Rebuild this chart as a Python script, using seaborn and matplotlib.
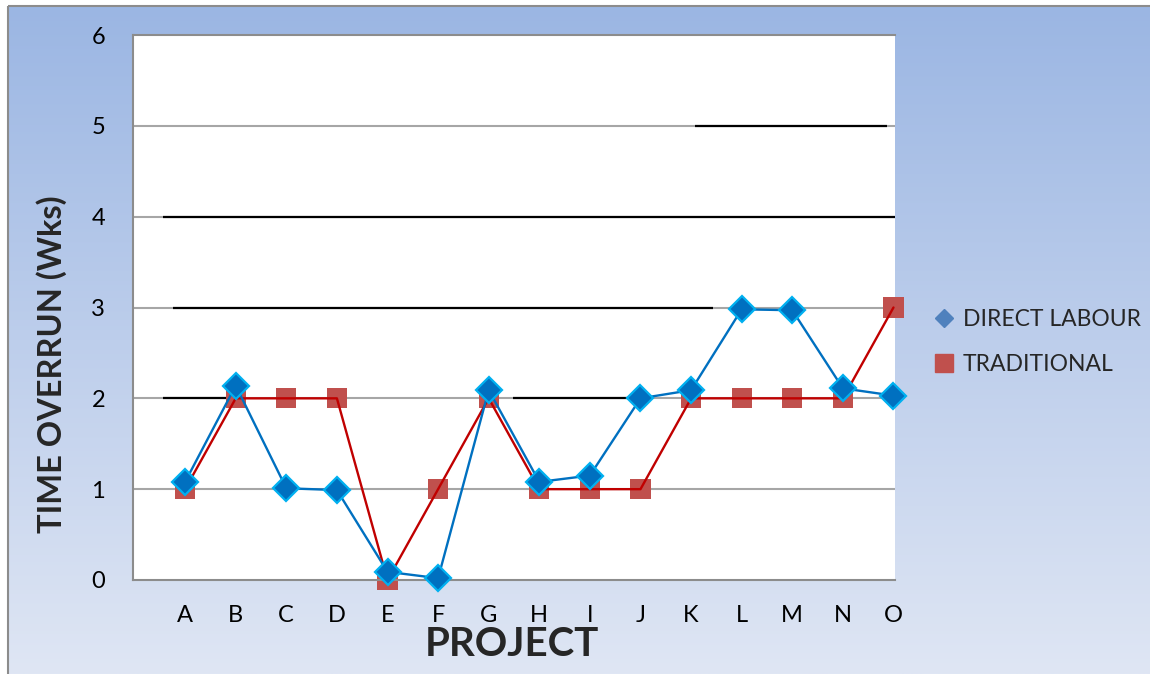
import numpy as np
import pandas as pd
import matplotlib
matplotlib.use("Agg")
import matplotlib.pyplot as plt
from matplotlib.lines import Line2D
from matplotlib.patches import Rectangle
import seaborn as sns

# Time overrun (weeks) per project
projects = list("ABCDEFGHIJKLMNO")
direct_labour = [1.08, 2.14, 1.01, 0.99, 0.09, 0.02, 2.09, 1.08, 1.15, 2.00,
                 2.09, 2.98, 2.97, 2.11, 2.03]
traditional = [1, 2, 2, 2, 0, 1, 2, 1, 1, 1, 2, 2, 2, 2, 3]
y_ticks = [0, 1, 2, 3, 4, 5, 6]
series_names = ["DIRECT LABOUR", "TRADITIONAL"]

# dark strokes lying on some gridlines: level, start and end in category units
stroke_levels = [4, 3, 5, 2, 2]
stroke_starts = [-0.43, -0.24, 10.08, -0.43, 6.48]
stroke_ends = [14.03, 10.43, 13.87, 0.85, 8.85]

df = pd.DataFrame({"project": projects,
                   "direct": direct_labour,
                   "traditional": traditional})

sns.set_style("white")
plt.rcParams["font.family"] = ["Lato", "DejaVu Sans"]

W, H = 1150, 674
fig = plt.figure(figsize=(W / 100, H / 100), dpi=100)
fig.patch.set_facecolor("white")

# chart-area background: vertical blue gradient inside a grey frame
bg = fig.add_axes([0, 0, 1, 1], zorder=0)
bg.set_xlim(0, W)
bg.set_ylim(H, 0)
bg.axis("off")
top = np.array([155, 182, 227]) / 255
bottom = np.array([223, 230, 244]) / 255
t = np.linspace(0, 1, 256)[:, None, None]
grad = top * (1 - t) + bottom * t
grad = np.repeat(grad, 2, axis=1)
bg.imshow(grad, extent=[8, W, H, 6], aspect="auto", interpolation="bilinear")
bg.add_patch(Rectangle((7.5, 5.5), W, H, fill=False, edgecolor="#8c8c8c", lw=1.5))

# plot area
ax = fig.add_axes([133 / W, 1 - 580 / H, (895 - 133) / W, (580 - 35) / H], zorder=1)
ax.set_facecolor("white")

for lvl in y_ticks[1:-1]:
    ax.axhline(lvl, color="#a6a6a6", lw=1.5, zorder=0.5)
ax.hlines(stroke_levels, stroke_starts, stroke_ends, color="black", lw=1.6, zorder=1)

# traditional: squares under the line
sns.scatterplot(data=df, x="project", y="traditional", ax=ax, marker="s",
                s=210, color="#c0504d", edgecolor="none", zorder=2, clip_on=False)
sns.lineplot(data=df, x="project", y="traditional", ax=ax, color="#c00000",
             lw=1.7, zorder=3, clip_on=False)

# direct labour: line under the diamonds
sns.lineplot(data=df, x="project", y="direct", ax=ax, color="#0070c0",
             lw=1.7, zorder=4, marker="D", markersize=13,
             markerfacecolor="#0070c0", markeredgecolor="#00b0f0",
             markeredgewidth=1.6, clip_on=False)

ax.set_xlim(-1.03, 14.03)
ax.set_ylim(0, 6)
ax.set_yticks(y_ticks)
ax.set_xticks(range(len(projects)))
ax.set_xticklabels(projects)
ax.tick_params(axis="both", length=0, labelsize=17, colors="black")
ax.tick_params(axis="y", pad=20)
ax.tick_params(axis="x", pad=18)
ax.set_xlabel("")
ax.set_ylabel("")
for side in ["left", "bottom", "top"]:
    ax.spines[side].set_color("#8c8c8c")
    ax.spines[side].set_linewidth(1.5)
ax.spines["right"].set_visible(False)
ax.grid(False)

fig.text(52 / W, 1 - 364 / H, "TIME OVERRUN (Wks)", rotation=90, ha="center",
         va="center", fontsize=23.5, fontweight="bold")
fig.text(512 / W, 1 - 645 / H, "PROJECT", ha="center", va="center",
         fontsize=29, fontweight="bold")

handles = [
    Line2D([], [], marker="D", ls="none", markersize=9.5, markerfacecolor="#4f81bd",
           markeredgecolor="#4f81bd"),
    Line2D([], [], marker="s", ls="none", markersize=12.5, markerfacecolor="#c0504d",
           markeredgecolor="#c0504d"),
]
fig.legend(handles, series_names, loc="center left",
           bbox_to_anchor=(910 / W, 1 - 342 / H), frameon=False, fontsize=16.5,
           handletextpad=0.2, labelspacing=1.05, handlelength=1.2)

fig.savefig("out.png", dpi=100)
